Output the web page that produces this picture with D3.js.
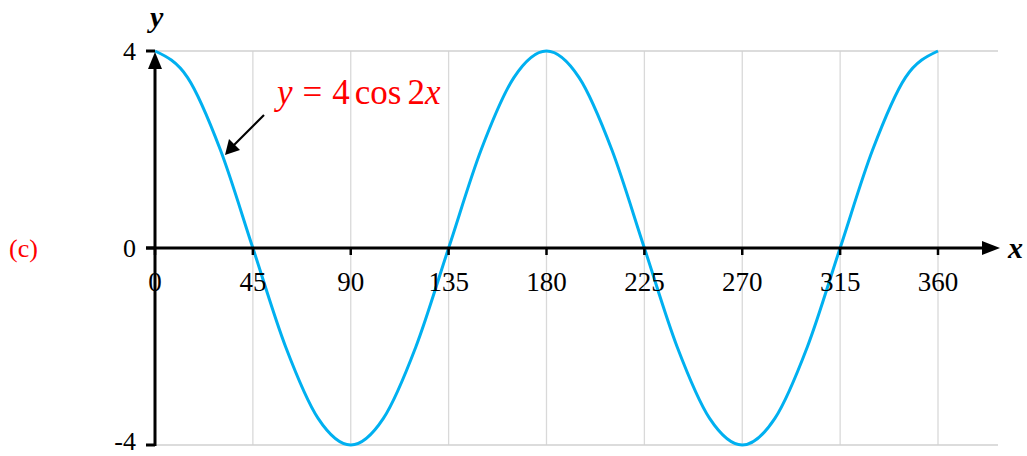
<!DOCTYPE html>
<html>
<head>
<meta charset="utf-8">
<script src="https://cdn.jsdelivr.net/npm/d3@7"></script>
<style>
  body { margin: 0; background: #fff; }
  text { font-family: "Liberation Serif", "Times New Roman", serif; }
</style>
</head>
<body>
<svg id="chart" width="1027" height="456"></svg>
<script>
const xValues = [0, 15, 30, 45, 60, 75, 90, 105, 120, 135, 150, 165, 180,
  195, 210, 225, 240, 255, 270, 285, 300, 315, 330, 345, 360];
const yValues = [4, 3.46, 2, 0, -2, -3.46, -4, -3.46, -2, 0, 2, 3.46, 4,
  3.46, 2, 0, -2, -3.46, -4, -3.46, -2, 0, 2, 3.46, 4];
const xTicks = [0, 45, 90, 135, 180, 225, 270, 315, 360];
const yTicks = [-4, 0, 4];

let svg = d3.select("#chart");

let x = d3.scaleLinear().domain([0, 360]).range([155, 938]);
let y = d3.scaleLinear().domain([-4, 4]).range([445, 51]);
let plotRight = 998;

// gridlines
svg.append("g").selectAll("line")
  .data(xTicks.slice(1))
  .join("line")
  .attr("x1", d => x(d)).attr("x2", d => x(d))
  .attr("y1", y(4)).attr("y2", y(-4))
  .attr("stroke", "#d9d9d9").attr("stroke-width", 1.3);

svg.append("g").selectAll("line")
  .data([4, -4])
  .join("line")
  .attr("x1", x(0)).attr("x2", plotRight)
  .attr("y1", d => y(d)).attr("y2", d => y(d))
  .attr("stroke", "#d0d0d0").attr("stroke-width", 1.3);

// curve
let pts = xValues.map((d, i) => [d, yValues[i]]);
let line = d3.line()
  .x(d => x(d[0]))
  .y(d => y(d[1]))
  .curve(d3.curveMonotoneX);

svg.append("path")
  .datum(pts)
  .attr("d", line)
  .attr("fill", "none")
  .attr("stroke", "#00b0f0")
  .attr("stroke-width", 3);

// x axis with arrow
svg.append("line")
  .attr("x1", 146).attr("x2", 985)
  .attr("y1", y(0)).attr("y2", y(0))
  .attr("stroke", "#000").attr("stroke-width", 3);
svg.append("path")
  .attr("d", `M1000,${y(0)} L982,${y(0) - 7} L982,${y(0) + 7} Z`)
  .attr("fill", "#000");

// x ticks
svg.append("g").selectAll("line")
  .data(xTicks)
  .join("line")
  .attr("x1", d => x(d)).attr("x2", d => x(d))
  .attr("y1", y(0)).attr("y2", y(0) + 7)
  .attr("stroke", "#000").attr("stroke-width", 2.5);

// y axis with arrow
svg.append("line")
  .attr("x1", x(0)).attr("x2", x(0))
  .attr("y1", y(-4) + 1).attr("y2", y(4) + 12)
  .attr("stroke", "#000").attr("stroke-width", 3);
svg.append("path")
  .attr("d", `M${x(0)},${y(4) + 1} L${x(0) - 7},${y(4) + 18} L${x(0) + 7},${y(4) + 18} Z`)
  .attr("fill", "#000");

// y ticks
svg.append("g").selectAll("line")
  .data(yTicks)
  .join("line")
  .attr("x1", x(0) - 9).attr("x2", x(0))
  .attr("y1", d => y(d)).attr("y2", d => y(d))
  .attr("stroke", "#000").attr("stroke-width", 3);

// tick labels
svg.append("g").selectAll("text")
  .data(xTicks)
  .join("text")
  .attr("x", d => x(d))
  .attr("y", 291)
  .attr("text-anchor", "middle")
  .attr("font-size", 27)
  .text(d => d);

svg.append("g").selectAll("text")
  .data(yTicks)
  .join("text")
  .attr("x", 136)
  .attr("y", d => d === -4 ? y(d) + 5 : y(d) + 9)
  .attr("text-anchor", "end")
  .attr("font-size", 26)
  .text(d => d);

// axis titles
svg.append("text")
  .attr("x", 1008).attr("y", 258)
  .attr("font-size", 30).attr("font-style", "italic").attr("font-weight", "bold")
  .text("x");
svg.append("text")
  .attr("x", 150).attr("y", 27)
  .attr("font-size", 30).attr("font-style", "italic").attr("font-weight", "bold")
  .text("y");

// panel label
svg.append("text")
  .attr("x", 9).attr("y", 257)
  .attr("font-size", 26).attr("fill", "#ff0000")
  .text("(c)");

// equation label + arrow
let eq = svg.append("text")
  .attr("x", 277).attr("y", 104)
  .attr("font-size", 35).attr("fill", "#ff0000");
eq.append("tspan").attr("font-style", "italic").text("y");
eq.append("tspan").attr("dx", 10).text("=");
eq.append("tspan").attr("dx", 10).text("4");
eq.append("tspan").attr("dx", 5).text("cos");
eq.append("tspan").attr("dx", 6).text("2");
eq.append("tspan").attr("font-style", "italic").text("x");

svg.append("line")
  .attr("x1", 264).attr("y1", 115)
  .attr("x2", 234).attr("y2", 145)
  .attr("stroke", "#000").attr("stroke-width", 2.2);
svg.append("path")
  .attr("d", "M225,155 L229,139 L240,150 Z")
  .attr("fill", "#000");
</script>
</body>
</html>
